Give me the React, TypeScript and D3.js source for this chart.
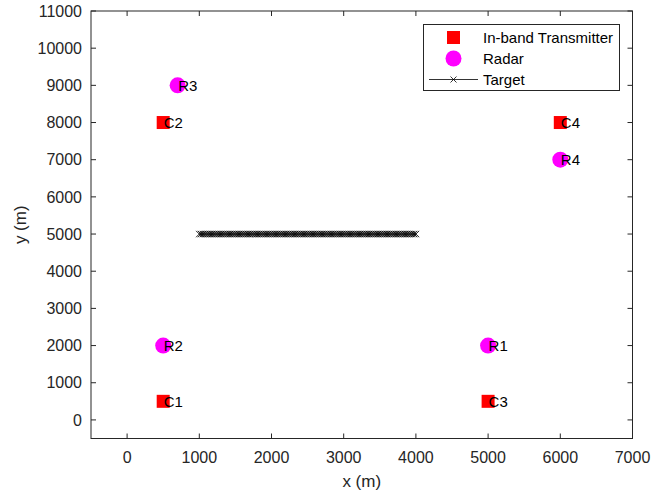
import React, { useEffect, useRef } from "react";
import * as d3 from "d3";

const transmitters = [
  { name: "C1", x: 500, y: 500 },
  { name: "C2", x: 500, y: 8000 },
  { name: "C3", x: 5000, y: 500 },
  { name: "C4", x: 6000, y: 8000 },
];
const radars = [
  { name: "R1", x: 5000, y: 2000 },
  { name: "R2", x: 500, y: 2000 },
  { name: "R3", x: 700, y: 9000 },
  { name: "R4", x: 6000, y: 7000 },
];
const targetX = [
  1000, 1025, 1050, 1075, 1100, 1125, 1150, 1175, 1200, 1225, 1250, 1275, 1300, 1325, 1350, 1375,
  1400, 1425, 1450, 1475, 1500, 1525, 1550, 1575, 1600, 1625, 1650, 1675, 1700, 1725, 1750, 1775,
  1800, 1825, 1850, 1875, 1900, 1925, 1950, 1975, 2000, 2025, 2050, 2075, 2100, 2125, 2150, 2175,
  2200, 2225, 2250, 2275, 2300, 2325, 2350, 2375, 2400, 2425, 2450, 2475, 2500, 2525, 2550, 2575,
  2600, 2625, 2650, 2675, 2700, 2725, 2750, 2775, 2800, 2825, 2850, 2875, 2900, 2925, 2950, 2975,
  3000, 3025, 3050, 3075, 3100, 3125, 3150, 3175, 3200, 3225, 3250, 3275, 3300, 3325, 3350, 3375,
  3400, 3425, 3450, 3475, 3500, 3525, 3550, 3575, 3600, 3625, 3650, 3675, 3700, 3725, 3750, 3775,
  3800, 3825, 3850, 3875, 3900, 3925, 3950, 3975, 4000,
];
const targetY = 5000;
const xTicks = [0, 1000, 2000, 3000, 4000, 5000, 6000, 7000];
const yTicks = [0, 1000, 2000, 3000, 4000, 5000, 6000, 7000, 8000, 9000, 10000, 11000];

export default function App() {
  const ref = useRef<SVGSVGElement>(null);

  useEffect(() => {
    const width = 666;
    const height = 492;
    const left = 91, right = 632.5, top = 11, bottom = 438.5;
    const svg = d3.select(ref.current).attr("width", width).attr("height", height);
    svg.selectAll("*").remove();
    const font = "Liberation Sans, Arial, sans-serif";
    const axisColor = "#262626";

    const x = d3.scaleLinear().domain([-500, 7000]).range([left, right]);
    const y = d3.scaleLinear().domain([-500, 11000]).range([bottom, top]);

    svg.append("rect").attr("width", width).attr("height", height).attr("fill", "white");

    // target line with x markers
    const line = d3.line<number>().x(d => x(d)).y(() => y(targetY));
    svg.append("path").attr("d", line(targetX)).attr("fill", "none").attr("stroke", "black").attr("stroke-width", 1);
    svg.selectAll(".tx").data(targetX).join("path").attr("class", "tx")
      .attr("d", d => {
        const cx = x(d), cy = y(targetY), s = 3.2;
        return `M${cx - s},${cy - s}L${cx + s},${cy + s}M${cx - s},${cy + s}L${cx + s},${cy - s}`;
      })
      .attr("stroke", "black").attr("stroke-width", 0.9);

    // transmitters
    svg.selectAll(".tr").data(transmitters).join("rect").attr("class", "tr")
      .attr("x", d => x(d.x) - 6.5).attr("y", d => y(d.y) - 6.5)
      .attr("width", 13).attr("height", 13).attr("fill", "#ff0000");
    // radars
    svg.selectAll(".ra").data(radars).join("circle").attr("class", "ra")
      .attr("cx", d => x(d.x)).attr("cy", d => y(d.y)).attr("r", 8).attr("fill", "#ff00ff");

    const labels = [...transmitters, ...radars];
    svg.selectAll(".lb").data(labels).join("text").attr("class", "lb")
      .attr("x", d => x(d.x) + 0.5).attr("y", d => y(d.y)).attr("dy", "0.36em")
      .attr("font-family", font).attr("font-size", 15).attr("fill", "black")
      .text(d => d.name);

    // box
    svg.append("rect").attr("x", left).attr("y", top).attr("width", right - left).attr("height", bottom - top)
      .attr("fill", "none").attr("stroke", axisColor).attr("stroke-width", 1);

    const tl = 5;
    xTicks.forEach(t => {
      svg.append("line").attr("x1", x(t)).attr("x2", x(t)).attr("y1", bottom).attr("y2", bottom - tl).attr("stroke", axisColor);
      svg.append("line").attr("x1", x(t)).attr("x2", x(t)).attr("y1", top).attr("y2", top + tl).attr("stroke", axisColor);
      svg.append("text").attr("x", x(t)).attr("y", bottom + 24).attr("text-anchor", "middle")
        .attr("font-family", font).attr("font-size", 16).attr("fill", axisColor).text(t);
    });
    yTicks.forEach(t => {
      svg.append("line").attr("x1", left).attr("x2", left + tl).attr("y1", y(t)).attr("y2", y(t)).attr("stroke", axisColor);
      svg.append("line").attr("x1", right).attr("x2", right - tl).attr("y1", y(t)).attr("y2", y(t)).attr("stroke", axisColor);
      svg.append("text").attr("x", left - 9).attr("y", y(t)).attr("dy", "0.36em").attr("text-anchor", "end")
        .attr("font-family", font).attr("font-size", 16).attr("fill", axisColor).text(t);
    });

    svg.append("text").attr("x", (left + right) / 2).attr("y", 487).attr("text-anchor", "middle")
      .attr("font-family", font).attr("font-size", 17).attr("fill", axisColor).text("x (m)");
    svg.append("text").attr("transform", `translate(26, ${(top + bottom) / 2}) rotate(-90)`).attr("text-anchor", "middle")
      .attr("font-family", font).attr("font-size", 17).attr("fill", axisColor).text("y (m)");

    // legend
    const lg = svg.append("g");
    lg.append("rect").attr("x", 423.5).attr("y", 24.5).attr("width", 196).attr("height", 66)
      .attr("fill", "white").attr("stroke", axisColor).attr("stroke-width", 1);
    lg.append("rect").attr("x", 447).attr("y", 31).attr("width", 13).attr("height", 13).attr("fill", "#ff0000");
    lg.append("circle").attr("cx", 453.5).attr("cy", 58.5).attr("r", 8).attr("fill", "#ff00ff");
    lg.append("line").attr("x1", 429).attr("x2", 478).attr("y1", 79.5).attr("y2", 79.5).attr("stroke", "black").attr("stroke-width", 0.8);
    lg.append("path").attr("d", "M450.5,76.5L456.5,82.5M450.5,82.5L456.5,76.5").attr("stroke", "black").attr("stroke-width", 0.8);
    const items = ["In-band Transmitter", "Radar", "Target"];
    items.forEach((t, i) => {
      lg.append("text").attr("x", 483).attr("y", 38 + i * 21).attr("dy", "0.36em")
        .attr("font-family", font).attr("font-size", 15).attr("fill", "black").text(t);
    });
  }, []);

  return <svg ref={ref} style={{ position: "absolute", left: 0, top: 0 }} />;
}
